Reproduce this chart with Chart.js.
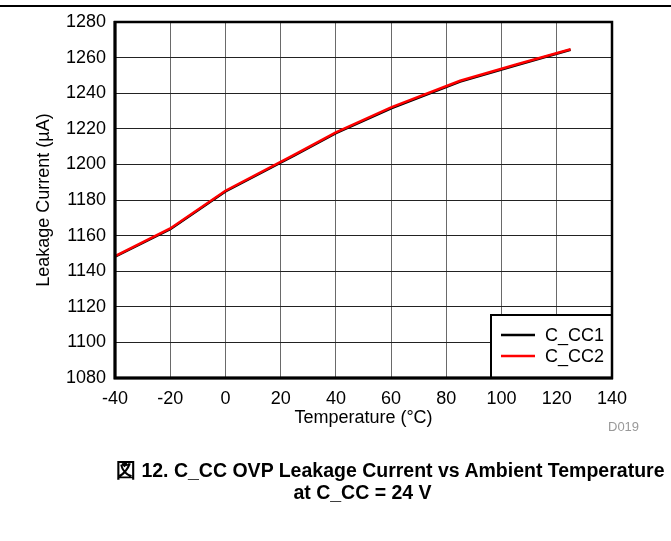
<!DOCTYPE html>
<html>
<head>
<meta charset="utf-8">
<script src="https://cdn.jsdelivr.net/npm/chart.js@4"></script>
<style>
  body { margin: 0; background: #fff; font-family: "Liberation Sans", Arial, sans-serif; }
  #wrap { position: relative; width: 671px; height: 541px; }
  #topline { position: absolute; left: 0; top: 5px; width: 671px; height: 2px; background: #000; }
  #d019 { position: absolute; left: 608px; top: 419px; font-size: 13px; color: #999; }
  .cap { position: absolute; font-weight: bold; font-size: 19.5px; color: #000; white-space: nowrap; }
  #cap1 { left: 116px; top: 457px; }
  #cap2 { left: 0; width: 725px; text-align: center; top: 481px; }
</style>
</head>
<body>
<div id="wrap">
  <canvas id="myChart" width="671" height="541"></canvas>
  <div id="topline"></div>
  <div id="d019">D019</div>
  <div class="cap" id="cap1">図 12. C_CC OVP Leakage Current vs Ambient Temperature</div>
  <div class="cap" id="cap2">at C_CC = 24 V</div>
</div>
<script>
// data
var temps = [-40, -20, 0, 25, 40, 60, 85, 105, 125];
var cc1 = [1148.2, 1163.6, 1184.8, 1205.0, 1217.6, 1231.5, 1246.5, 1255.6, 1264.4];
var cc2 = [1148.5, 1164.0, 1185.2, 1205.5, 1218.0, 1232.0, 1247.0, 1256.0, 1264.7];
var xTicks = [-40, -20, 0, 20, 40, 60, 80, 100, 120, 140];
var yTicks = [1080, 1100, 1120, 1140, 1160, 1180, 1200, 1220, 1240, 1260, 1280];

function toPoints(xs, ys) {
  return xs.map(function (x, i) { return {x: x, y: ys[i]}; });
}

var tickFont = {family: "'Liberation Sans', Arial, sans-serif", size: 18};

// frame + legend box inside the plot
var framePlugin = {
  id: 'frame',
  afterDraw: function (chart) {
    var c = chart.ctx, a = chart.chartArea;
    c.save();
    // legend
    var w = 121, h = 63;
    var lx = a.right - w, ly = a.bottom - h;
    c.fillStyle = '#fff';
    c.fillRect(lx, ly, w, h);
    c.strokeStyle = '#000';
    c.lineWidth = 2;
    c.strokeRect(lx, ly, w, h);
    var ds = [chart.data.datasets[0], chart.data.datasets[1]];
    c.font = "18px 'Liberation Sans', Arial, sans-serif";
    c.textBaseline = 'middle';
    ds.forEach(function (d, i) {
      var yy = ly + 20 + i * 21;
      c.strokeStyle = d.borderColor;
      c.lineWidth = 2.5;
      c.beginPath();
      c.moveTo(lx + 10, yy);
      c.lineTo(lx + 44, yy);
      c.stroke();
      c.fillStyle = '#000';
      c.fillText(d.label, lx + 54, yy + 1);
    });
    // plot border
    c.strokeStyle = '#000';
    c.lineWidth = 2.5;
    c.strokeRect(a.left, a.top, a.right - a.left, a.bottom - a.top);
    c.lineWidth = 3;
    c.beginPath();
    c.moveTo(a.left, a.top - 1);
    c.lineTo(a.left, a.bottom);
    c.lineTo(a.right + 1, a.bottom);
    c.stroke();
    c.restore();
  }
};

function plain(v) { return String(v); }

var ctx = document.getElementById("myChart");
var myChart = new Chart(ctx, {
  type: 'line',
  data: {
    datasets: [{
      label: 'C_CC1',
      data: toPoints(temps, cc1),
      borderColor: '#000000',
      borderWidth: 2.5,
      pointRadius: 0,
      tension: 0,
      order: 1
    }, {
      label: 'C_CC2',
      data: toPoints(temps, cc2),
      borderColor: '#ff0000',
      borderWidth: 2.5,
      pointRadius: 0,
      tension: 0,
      order: 0
    }]
  },
  options: {
    responsive: false,
    animation: false,
    events: [],
    layout: {
      padding: {left: 0, right: 59, top: 22, bottom: 0}
    },
    plugins: {
      legend: {display: false},
      tooltip: {enabled: false}
    },
    scales: {
      x: {
        type: 'linear',
        min: -40,
        max: 140,
        afterBuildTicks: function (s) { s.ticks = xTicks.map(function (v) { return {value: v}; }); },
        afterFit: function (s) { s.height = 163; },
        grid: {color: '#6a6a6a', lineWidth: 1, drawTicks: false},
        border: {display: false},
        ticks: {font: tickFont, color: '#000', padding: 10, maxRotation: 0, callback: plain},
        title: {
          display: true,
          text: 'Temperature (°C)',
          font: tickFont,
          color: '#000',
          padding: {top: 0, bottom: 112}
        }
      },
      y: {
        min: 1080,
        max: 1280,
        afterBuildTicks: function (s) { s.ticks = yTicks.map(function (v) { return {value: v}; }); },
        afterFit: function (s) { s.width = 115; },
        grid: {color: '#222222', lineWidth: 1, drawTicks: false},
        border: {display: false},
        ticks: {font: tickFont, color: '#000', padding: 9, callback: plain},
        title: {
          display: true,
          text: 'Leakage Current (µA)',
          font: tickFont,
          color: '#000',
          padding: {top: 33, bottom: 0}
        }
      }
    }
  },
  plugins: [framePlugin]
});
</script>
</body>
</html>
